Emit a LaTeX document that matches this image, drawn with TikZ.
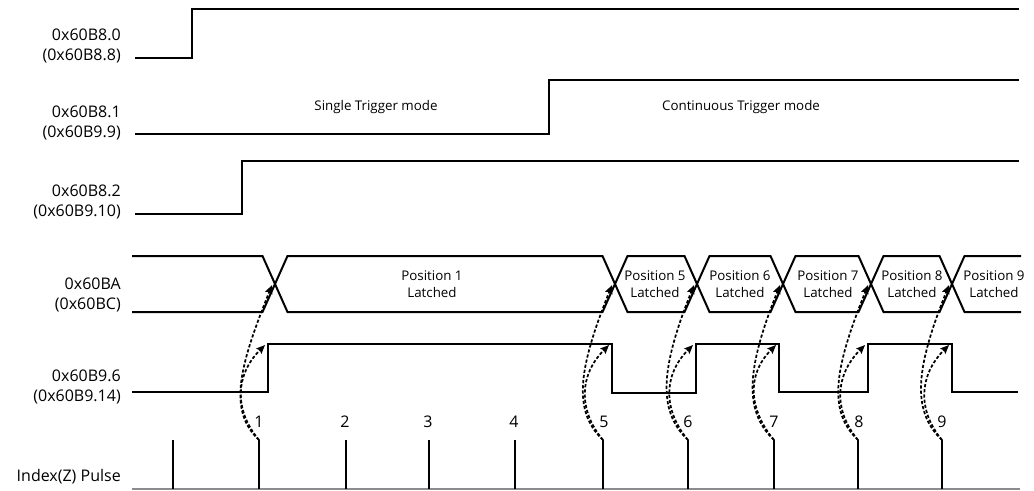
\documentclass[tikz,border=0pt]{standalone}
\usepackage{fontspec}
\setmainfont{Open Sans}
\usetikzlibrary{arrows.meta}
\begin{document}
\begin{tikzpicture}[x=0.75pt,y=-0.75pt,
  sig/.style={line width=1.5pt,line join=miter},
  pulse/.style={line width=1.1pt},
  base/.style={line width=0.8pt,draw=black!45},
  lbl/.style={anchor=east,align=right,inner sep=0pt,font=\fontsize{12}{15}\selectfont},
  num/.style={inner sep=0pt,font=\fontsize{12}{15}\selectfont},
  small/.style={inner sep=0pt,align=center,font=\fontsize{10}{13}\selectfont},
  latch/.style={line width=1.3pt,dash pattern=on 2.4pt off 1.5pt,-{Stealth[length=6.5pt,width=5.5pt,inset=1pt]}}]
\useasboundingbox (0,0) rectangle (1034,490);

% digital signals
\draw[sig] (135,58) -- (192,58) -- (192,9) -- (1019,9);
\draw[sig] (135,134) -- (549,134) -- (549,80) -- (1019,80);
\draw[sig] (135,214) -- (242,214) -- (242,161) -- (1019,161);

% bus
\draw[sig] (132,256) -- (262.5,256) -- (287.5,312) -- (602.5,312) -- (627.5,256) -- (684.5,256) -- (709.5,312) -- (770.5,312) -- (795.5,256) -- (858.5,256) -- (883.5,312) -- (939.5,312) -- (964.5,256) -- (1021,256);
\draw[sig] (132,312) -- (262.5,312) -- (287.5,256) -- (602.5,256) -- (627.5,312) -- (684.5,312) -- (709.5,256) -- (770.5,256) -- (795.5,312) -- (858.5,312) -- (883.5,256) -- (939.5,256) -- (964.5,312) -- (1021,312);

% latch status signal
\draw[sig] (132,392) -- (268,392) -- (268,344) -- (612,344) -- (612,393) -- (696,393) -- (696,344) -- (779,344) -- (779,392) -- (868,392) -- (868,344) -- (952,344) -- (952,392) -- (1018,392);

% index pulses
\draw[base] (132,489) -- (1020,489);
\foreach \i/\x in {0/173,1/259,2/346,3/429,4/515,5/603,6/688,7/774,8/858,9/942}{
  \coordinate (pt\i) at (\x,440);
  \coordinate (pb\i) at (\x,489);
  \draw[pulse] (pb\i) -- (pt\i);
}
\foreach \i/\x in {1/259,2/345,3/428,4/514,5/604,6/688,7/774,8/859,9/942}{
  \node[num] (n\i) at (\x,422) {\i};
}

% latch arrows
\foreach \i/\cx/\sx in {1/275/268,5/615/612,6/697/696,7/783/779,8/871/868,9/952/952}{
  \coordinate (bt\i) at ({\cx-3},285);
  \coordinate (st\i) at ({\sx-3},345);
  \draw[latch] (pt\i) .. controls +(-32,-30) and +(-32,80) .. (bt\i);
  \draw[latch] (pt\i) .. controls +(-25,-30) and +(-30,30) .. (st\i);
}

% labels
\node[lbl] (l1) at (121,46) {0x60B8.0\\(0x60B8.8)};
\node[lbl] (l2) at (121,123) {0x60B8.1\\(0x60B9.9)};
\node[lbl] (l3) at (121,202) {0x60B8.2\\(0x60B9.10)};
\node[lbl] (l4) at (121,295) {0x60BA\\(0x60BC)};
\node[lbl] (l5) at (121,387) {0x60B9.6\\(0x60B9.14)};
\node[lbl] (l6) at (121,477) {Index(Z) Pulse};

\node[small] (m1) at (376,107) {Single Trigger mode};
\node[small] (m2) at (741,107) {Continuous Trigger mode};

\node[small] (q1) at (432,284) {Position 1\\Latched};
\node[small] (q5) at (655,284) {Position 5\\Latched};
\node[small] (q6) at (740,284) {Position 6\\Latched};
\node[small] (q7) at (828,284) {Position 7\\Latched};
\node[small] (q8) at (912,284) {Position 8\\Latched};
\node[small] (q9) at (994,284) {Position 9\\Latched};
\end{tikzpicture}
\end{document}
